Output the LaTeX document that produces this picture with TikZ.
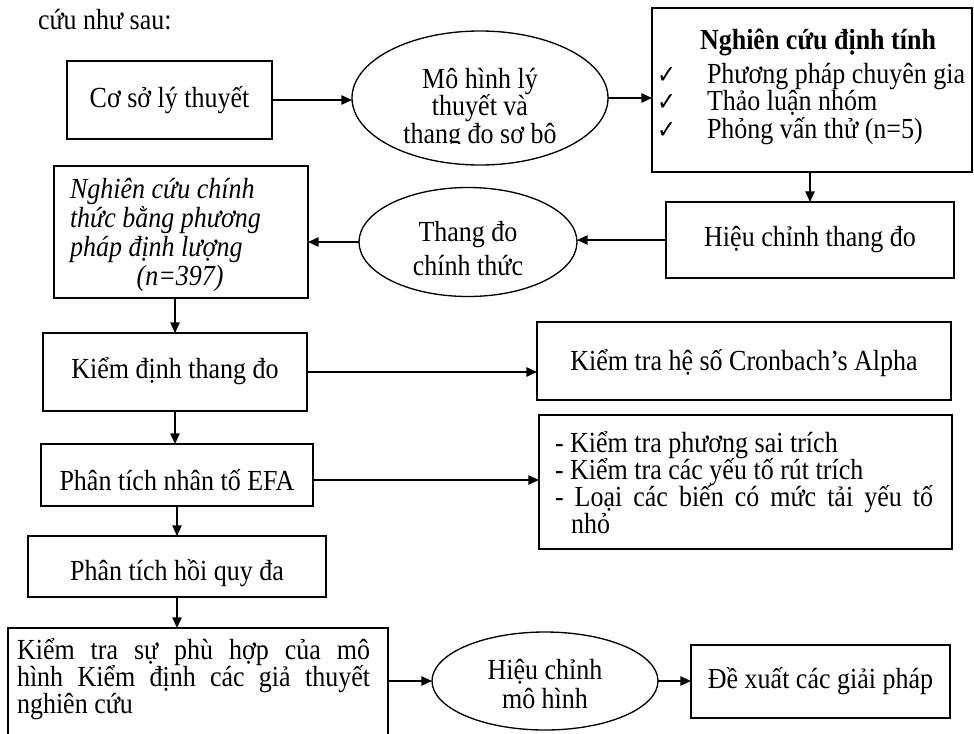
\documentclass[tikz,border=0pt]{standalone}
\usepackage{fontspec}
\usepackage{graphicx}
\setmainfont{Liberation Serif}
\newfontfamily\symf{DejaVu Sans}
\usetikzlibrary{arrows.meta,shapes.geometric}
\newcommand\fs{\fontsize{19.5pt}{21.5pt}\selectfont}
\newcommand\vs{1.12}
\newcommand\st[1]{\scalebox{1}[\vs]{#1}}
% width, baselineskip, alignment, text
\newcommand\stp[4]{\scalebox{1}[\vs]{\parbox{#1}{\fontsize{19.5pt}{#2}\selectfont\lineskiplimit=-100pt #3\noindent #4}}}
\newcommand\ck{\makebox[37.5pt][l]{\fontsize{17pt}{16pt}\symf ✓}}
\begin{document}
\begin{tikzpicture}[x=0.75pt,y=-0.75pt,
  every node/.style={font=\fs, inner sep=0pt, outer sep=0pt},
  box/.style={draw, line width=1pt, rectangle},
  ell/.style={draw, line width=1pt, ellipse},
  wh/.style 2 args={minimum width=#1*0.75pt, minimum height=#2*0.75pt},
  arr/.style={-{Triangle[length=8pt,width=7pt]}, line width=1.2pt}]
\useasboundingbox (0,0) rectangle (974,733);

% header
\node[anchor=west] (hdr) at (38,20) {\st{cứu như sau:}};

% row 1
\node[box, wh={205}{78}] (box1) at (169.5,100) {};
\node (box1t) at (169.5,100) {\st{Cơ sở lý thuyết}};

\node[ell, wh={256}{134}] (ell1) at (480,98) {};
\begin{scope}
  \clip (352,30) rectangle (607,143);
  \node (ell1t) at (480,109) {\stp{180pt}{18.1pt}{\centering}{Mô hình lý\\thuyết và\\thang đo sơ bô}};
\end{scope}

\node[box, wh={320}{164}] (box3) at (812,90) {};
\node[font=\fs\bfseries] (b3t) at (818,42) {\st{Nghiên cứu định tính}};
\node[anchor=west] (b3i) at (657,104)
  {\stp{240pt}{18.3pt}{\raggedright}{\ck Phương pháp chuyên gia\\\ck Thảo luận nhóm\\\ck Phỏng vấn thử (n=5)}};

% row 2
\node[box, wh={288}{76}] (box4) at (810,240) {};
\node (box4t) at (810,240) {\st{Hiệu chỉnh thang đo}};

\node[ell, wh={218}{109}] (ell2) at (468,242) {};
\node (ell2t) at (468,249) {\stp{150pt}{22.8pt}{\centering}{Thang đo\\chính thức}};

\node[box, wh={254}{132}] (box2) at (181,232) {};
\node[anchor=west, font=\fs\itshape] (box2t) at (70,235)
  {\stp{180pt}{19.4pt}{\raggedright}{Nghiên cứu chính\\thức bằng phương\\pháp định lượng\\\hspace*{50pt}(n=397)}};

% row 3
\node[box, wh={264}{78}] (box5) at (175,372) {};
\node (box5t) at (175,371) {\st{Kiểm định thang đo}};

\node[box, wh={414}{78}] (cron) at (744,361) {};
\node (cront) at (744,363) {\st{Kiểm tra hệ số Cronbach’s Alpha}};

% row 4
\node[box, wh={272}{62}] (efa) at (177,475) {};
\node (efat) at (177,480) {\st{Phân tích nhân tố EFA}};

\node[box, wh={413}{134}] (list) at (745.5,482) {};
\node[anchor=west] (listt) at (555,483)
  {\stp{283.5pt}{18.1pt}{}{- Kiểm tra phương sai trích\\- Kiểm tra các yếu tố rút trích\\- Loại các biến có mức tải yếu tố\linebreak\hspace*{12pt}nhỏ}};

% row 5
\node[box, wh={298}{61}] (box6) at (177,566.5) {};
\node (box6t) at (177,573) {\st{Phân tích hồi quy đa}};

% row 6
\node[box, wh={380}{132}] (box7) at (198,694) {};
\node[anchor=west] (box7t) at (17,679)
  {\stp{264.75pt}{18.1pt}{}{Kiểm tra sự phù hợp của mô\linebreak hình Kiểm định các giả thuyết\linebreak nghiên cứu}};

\node[ell, wh={226}{98}] (ell3) at (545,681) {};
\node (ell3t) at (545,684) {\stp{150pt}{19.4pt}{\centering}{Hiệu chỉnh\\mô hình}};

\node[box, wh={259}{73}] (box8) at (820.5,681.5) {};
\node (box8t) at (820.5,681) {\st{Đề xuất các giải pháp}};

% connectors
\draw[arr] (box1.east) -- (box1.east -| ell1.west);
\draw[arr] (ell1.east) -- (ell1.east -| box3.west);
\draw[arr] (box3.south -| box4.north) -- (box4.north);
\draw[arr] (box4.west) -- (box4.west -| ell2.east);
\draw[arr] (ell2.west) -- (ell2.west -| box2.east);
\draw[arr] (box5.north |- box2.south) -- (box5.north);
\draw[arr] (box5.east) -- (box5.east -| cron.west);
\draw[arr] (box5.south) -- (box5.south |- efa.north);
\draw[arr] (efat.east -| efa.east) -- (efat.east -| list.west);
\draw[arr] (efa.south) -- (efa.south |- box6.north);
\draw[arr] (box6.south) -- (box6.south |- box7.north);
\draw[arr] (ell3.west -| box7.east) -- (ell3.west);
\draw[arr] (ell3.east) -- (ell3.east -| box8.west);
\end{tikzpicture}
\end{document}
